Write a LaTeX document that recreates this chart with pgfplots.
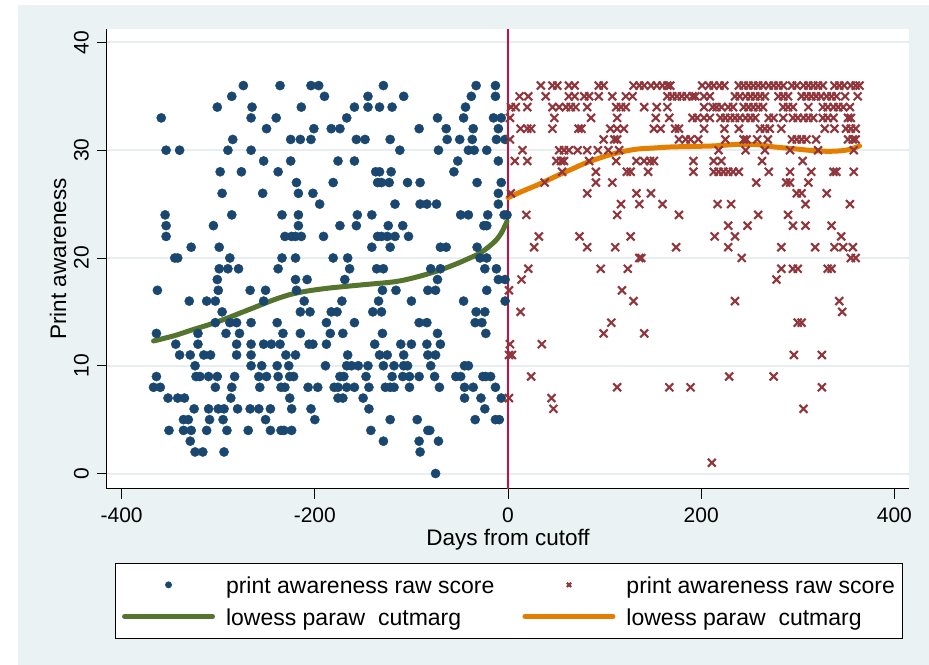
\documentclass[border=0pt]{standalone}
\usepackage{fontspec}
\setmainfont{Liberation Sans}
\usepackage{pgfplots}
\pgfplotsset{compat=1.18}
\definecolor{stbg}{HTML}{EAF2F3}
\definecolor{stgrid}{HTML}{E6EEF0}
\definecolor{stnavy}{HTML}{1A476F}
\definecolor{stmaroon}{HTML}{90353B}
\definecolor{stgreen}{HTML}{55752F}
\definecolor{storange}{HTML}{E37E00}
\definecolor{stcut}{HTML}{D00C3E}
\pgfplotsset{
  legmark/.style={legend image code/.code={\path (0bp,0bp) (88bp,0bp);\draw[##1,mark size=3bp] plot coordinates {(44bp,0bp)};}},
  legline/.style={legend image code/.code={\draw[##1] (0bp,0bp) -- (88bp,0bp);}},
}
\begin{document}
\begin{tikzpicture}[font=\fontsize{22.5bp}{26bp}\selectfont]
\fill[white] (-106.7bp,-176.3bp) rectangle (822.3bp,488.7bp);
\fill[stbg] (-88.7bp,-176.3bp) rectangle (822.3bp,483.7bp);
\begin{axis}[
  at={(0bp,0bp)}, anchor=south west,
  scale only axis, width=802.6bp, height=459.7bp,
  xmin=-415.5, xmax=415.5, ymin=-1.41, ymax=41.25,
  axis x line*=bottom, axis y line*=left,
  axis line style={black, line width=0.9bp, -},
  axis background/.style={fill=white},
  xtick={-400,-200,0,200,400}, ytick={0,10,20,30,40},
  tick align=outside, major tick length=10bp,
  tick style={black, line width=0.9bp},
  ymajorgrids, major grid style={stgrid, line width=2bp},
  /pgf/number format/assume math mode=true,
  ticklabel style={font=\fontsize{21bp}{24bp}\selectfont},
  xticklabel style={anchor=north, inner sep=0pt, yshift=-9bp},
  yticklabel style={xshift=-8bp, rotate=90, anchor=base, inner sep=0pt},
  xlabel={Days from cutoff}, ylabel={Print awareness},
  xlabel style={at={(axis description cs:0.5,-0.1225)}, anchor=base},
  ylabel style={at={(axis description cs:-0.0507,0.5)}, anchor=base},
  legend columns=2,
  legend cell align=left,
  legend style={at={(axis description cs:0.5006,-0.2436)}, anchor=center,
    draw=black, line width=0.8bp, fill=white,
    font=\fontsize{23bp}{26bp}\selectfont,
    inner xsep=7bp, inner ysep=8bp, row sep=4.5bp,
    nodes={inner sep=0pt, text height=22.7bp, text depth=4.5bp},
    /tikz/every odd column/.append style={column sep=11bp},
    /tikz/every even column/.append style={column sep=28bp}},
]
\addplot[stcut, line width=2.2bp, forget plot] coordinates {(0,-1.41) (0,41.25)};
\addplot[only marks, mark=*, mark size=4.6bp, color=stnavy, legmark] coordinates {
(-274,36)(-236,36)(-204,36)(-196,36)(-129,36)(-33,36)(-13,36)
(-286,35)(-190,35)(-145,35)(-108,35)(-38,35)(-13,35)
(-301,34)(-265,34)(-214,34)(-159,34)(-145,34)(-133,34)(-120,34)(-44,34)
(-359,33)(-266,33)(-240,33)(-167,33)(-73,33)(-46,33)(-15,33)(-7,33)
(-250,32)(-201,32)(-183,32)(-174,32)(-92,32)(-64,32)(-36,32)(-10,32)
(-285,31)(-225,31)(-215,31)(-204,31)(-157,31)(-148,31)(-122,31)(-63,31)(-50,31)(-37,31)(-12,31)(-3,31)
(-354,30)(-340,30)(-290,30)(-266,30)(-112,30)(-72,30)(-41,30)(-35,30)(-22,30)
(-253,29)(-225,29)(-176,29)(-159,29)(-52,29)(-10,29)
(-298,28)(-276,28)(-238,28)(-137,28)(-133,28)(-121,28)(-56,28)
(-219,27)(-181,27)(-135,27)(-131,27)(-123,27)(-104,27)(-91,27)(-32,27)(-7,27)
(-296,26)(-254,26)(-217,26)(-202,26)(-10,26)
(-195,25)(-117,25)(-91,25)(-84,25)(-74,25)(-10,25)
(-355,24)(-286,24)(-234,24)(-217,24)(-156,24)(-141,24)(-49,24)(-41,24)(-21,24)(-4,24)(-1,24)
(-354,23)(-305,23)(-217,23)(-174,23)(-157,23)(-124,23)(-109,23)(-25,23)(-22,23)
(-354,22)(-231,22)(-224,22)(-220,22)(-214,22)(-191,22)(-135,22)(-131,22)(-125,22)(-117,22)(-103,22)
(-328,21)(-299,21)(-141,21)(-122,21)(-70,21)(-64,21)(-32,21)
(-345,20)(-342,20)(-288,20)(-234,20)(-220,20)(-181,20)(-166,20)(-29,20)(-22,20)
(-299,19)(-290,19)(-279,19)(-238,19)(-164,19)(-136,19)(-129,19)(-80,19)(-70,19)(-24,19)(-12,19)
(-301,18)(-220,18)(-208,18)(-169,18)(-73,18)(-10,18)(-3,18)
(-363,17)(-300,17)(-267,17)(-251,17)(-219,17)(-130,17)(-116,17)(-83,17)(-75,17)(-22,17)
(-330,16)(-312,16)(-303,16)(-253,16)(-211,16)(-172,16)(-134,16)(-100,16)(-46,16)(-3,16)
(-296,15)(-215,15)(-205,15)(-183,15)(-177,15)(-140,15)(-131,15)(-33,15)(-24,15)
(-303,14)(-288,14)(-281,14)(-266,14)(-239,14)(-188,14)(-159,14)(-92,14)(-84,14)(-34,14)(-27,14)
(-364,13)(-321,13)(-292,13)(-278,13)(-233,13)(-215,13)(-184,13)(-171,13)(-130,13)(-73,13)(-23,13)
(-344,12)(-321,12)(-281,12)(-266,12)(-253,12)(-245,12)(-236,12)(-206,12)(-202,12)(-188,12)(-138,12)(-111,12)(-100,12)(-84,12)(-70,12)
(-340,11)(-329,11)(-315,11)(-308,11)(-281,11)(-266,11)(-230,11)(-220,11)(-166,11)(-133,11)(-125,11)(-108,11)(-83,11)(-75,11)
(-324,10)(-266,10)(-255,10)(-239,10)(-227,10)(-189,10)(-167,10)(-162,10)(-155,10)(-145,10)(-129,10)(-118,10)(-108,10)(-104,10)(-80,10)(-45,10)(-41,10)
(-364,9)(-323,9)(-319,9)(-310,9)(-301,9)(-283,9)(-258,9)(-250,9)(-238,9)(-226,9)(-222,9)(-174,9)(-170,9)(-147,9)(-120,9)(-109,9)(-102,9)(-92,9)(-76,9)(-54,9)(-49,9)(-26,9)(-23,9)(-18,9)
(-367,8)(-360,8)(-303,8)(-286,8)(-257,8)(-235,8)(-231,8)(-207,8)(-197,8)(-180,8)(-176,8)(-167,8)(-159,8)(-144,8)(-127,8)(-122,8)(-118,8)(-102,8)(-71,8)(-45,8)(-36,8)(-13,8)
(-352,7)(-342,7)(-335,7)(-287,7)(-226,7)(-176,7)(-171,7)(-150,7)(-45,7)(-28,7)(-7,7)
(-325,6)(-310,6)(-300,6)(-294,6)(-280,6)(-267,6)(-258,6)(-246,6)(-224,6)(-204,6)(-144,6)(-24,6)
(-336,5)(-331,5)(-309,5)(-295,5)(-251,5)(-200,5)(-122,5)(-94,5)(-34,5)(-13,5)(-9,5)
(-351,4)(-336,4)(-328,4)(-312,4)(-291,4)(-269,4)(-246,4)(-235,4)(-232,4)(-224,4)(-142,4)(-83,4)(-81,4)
(-329,3)(-129,3)(-92,3)(-72,3)
(-324,2)(-316,2)(-294,2)(-91,2)
(-75,0)
};
\addlegendentry{print awareness raw score}
\addplot[only marks, mark=x, mark size=5.6bp, color=stmaroon, line width=2.1bp, legmark] coordinates {
(34,36)(46,36)(51,36)(63,36)(69,36)(94,36)(99,36)(130,36)(136,36)(141,36)(148,36)(154,36)(160,36)(165,36)(168,36)(201,36)(208,36)(213,36)(219,36)(224,36)(239,36)(244,36)(249,36)(254,36)(259,36)(264,36)(270,36)(275,36)(280,36)(285,36)(294,36)(299,36)(306,36)(311,36)(316,36)(321,36)(326,36)(338,36)(343,36)(348,36)(355,36)(360,36)(364,36)
(12,35)(21,35)(39,35)(63,35)(69,35)(79,35)(84,35)(94,35)(108,35)(122,35)(129,35)(165,35)(170,35)(175,35)(180,35)(185,35)(191,35)(194,35)(203,35)(209,35)(235,35)(240,35)(246,35)(251,35)(256,35)(261,35)(266,35)(280,35)(285,35)(290,35)(304,35)(309,35)(314,35)(319,35)(324,35)(330,35)(335,35)(340,35)(349,35)(362,35)
(3,34)(8,34)(20,34)(46,34)(53,34)(60,34)(65,34)(70,34)(82,34)(112,34)(117,34)(122,34)(141,34)(154,34)(165,34)(203,34)(212,34)(216,34)(221,34)(228,34)(233,34)(244,34)(249,34)(254,34)(259,34)(264,34)(285,34)(290,34)(295,34)(311,34)(326,34)(331,34)(337,34)(342,34)(347,34)(354,34)
(2,33)(48,33)(86,33)(113,33)(153,33)(167,33)(191,33)(196,33)(203,33)(209,33)(220,33)(225,33)(230,33)(235,33)(240,33)(246,33)(251,33)(256,33)(270,33)(275,33)(285,33)(295,33)(300,33)(306,33)(311,33)(316,33)(326,33)(331,33)(337,33)(352,33)(355,33)
(13,32)(20,32)(24,32)(46,32)(73,32)(76,32)(106,32)(113,32)(120,32)(151,32)(158,32)(173,32)(177,32)(203,32)(224,32)(239,32)(261,32)(266,32)(271,32)(283,32)(328,32)(338,32)(350,32)(355,32)(360,32)
(2,31)(99,31)(110,31)(113,31)(177,31)(184,31)(189,31)(197,31)(225,31)(244,31)(247,31)(258,31)(269,31)(294,31)(299,31)(304,31)(309,31)(319,31)(352,31)(357,31)(360,31)
(15,30)(53,30)(58,30)(63,30)(72,30)(82,30)(93,30)(104,30)(115,30)(218,30)(246,30)(266,30)(292,30)(321,30)(358,30)
(7,29)(20,29)(50,29)(55,29)(58,29)(84,29)(112,29)(133,29)(141,29)(147,29)(151,29)(192,29)(213,29)(221,29)(263,29)(305,29)
(56,28)(91,28)(123,28)(127,28)(145,28)(192,28)(213,28)(218,28)(223,28)(228,28)(233,28)(239,28)(270,28)(292,28)(314,28)(337,28)(340,28)(358,28)
(38,27)(91,27)(108,27)(257,27)(288,27)(292,27)(311,27)
(3,26)(82,26)(133,26)(148,26)(299,26)(304,26)(330,26)
(117,25)(136,25)(160,25)(217,25)(231,25)(308,25)(354,25)
(19,24)(113,24)(177,24)(259,24)(290,24)
(228,23)(248,23)(295,23)(308,23)(335,23)
(32,22)(74,22)(127,22)(214,22)(235,22)(345,22)
(27,21)(82,21)(111,21)(174,21)(228,21)(283,21)(318,21)(338,21)(347,21)(357,21)
(136,20)(138,20)(242,20)(355,20)(360,20)
(21,19)(96,19)(124,19)(283,19)(295,19)(300,19)(331,19)(335,19)
(14,18)(278,18)
(1,17)(118,17)
(130,16)(235,16)(343,16)
(13,15)(346,15)
(107,14)(300,14)(304,14)
(99,13)(141,13)
(2,12)(35,12)
(1,11)(4,11)(296,11)(325,11)
(24,9)(229,9)(275,9)
(113,8)(167,8)(189,8)(325,8)
(1,7)(45,7)
(47,6)(306,6)
(211,1)
};
\addlegendentry{print awareness raw score}
\addplot[stgreen, line width=5bp, line cap=round, mark=none, smooth, legline] coordinates {
(-367,12.3)(-345,12.8)(-328,13.3)(-310,13.8)(-294,14.3)(-277,14.9)(-260,15.5)(-243,16.1)(-226,16.6)(-210,16.9)(-186,17.2)(-152,17.5)(-117,17.8)(-96,18.2)(-73,18.8)(-55,19.4)(-42,19.9)(-28,20.5)(-14,21.5)(-7,22.3)(-1,23.4)
};
\addlegendentry{lowess paraw\ \ cutmarg}
\addplot[storange, line width=5bp, line cap=round, mark=none, smooth, legline] coordinates {
(0,25.6)(15,26.2)(31,26.8)(50,27.6)(65,28.2)(80,28.8)(99,29.4)(115,29.8)(133,30.1)(150,30.2)(168,30.3)(190,30.35)(213,30.4)(240,30.55)(260,30.5)(276,30.3)(295,30.15)(311,30.0)(330,29.9)(345,29.95)(355,30.1)(364,30.4)
};
\addlegendentry{lowess paraw\ \ cutmarg}
\end{axis}
\end{tikzpicture}
\end{document}
